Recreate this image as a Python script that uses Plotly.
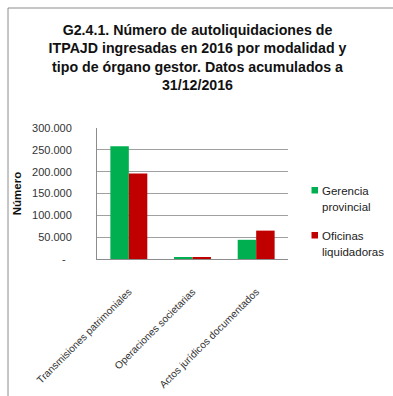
import plotly.graph_objects as go

# Data
categories = ["Transmisiones patrimoniales", "Operaciones societarias", "Actos jurídicos documentados"]
gerencia_provincial = [258000, 3000, 44000]
oficinas_liquidadoras = [196000, 2500, 65000]
series_names = ["Gerencia<br>provincial", "Oficinas<br>liquidadoras"]
series_colors = ["#00B050", "#C00000"]
y_tickvals = [0, 50000, 100000, 150000, 200000, 250000, 300000]
y_ticktext = ["-\u00a0\u00a0", "50.000", "100.000", "150.000", "200.000", "250.000", "300.000"]

W, H = 393, 396
L, R, T, B = 97, 105, 128, 137
PW, PH = W - L - R, H - T - B


def px(x):
    return (x - L) / PW


def py(y):
    return (H - B - y) / PH


fig = go.Figure()
for name, vals, col in zip(series_names, [gerencia_provincial, oficinas_liquidadoras], series_colors):
    fig.add_trace(go.Bar(x=categories, y=vals, name=name, marker_color=col,
                         marker_line_width=0, showlegend=False))

fig.update_layout(
    width=W, height=H,
    margin=dict(l=L, r=R, t=T, b=B),
    paper_bgcolor="white", plot_bgcolor="white",
    barmode="group", bargap=0.42, bargroupgap=0,
    title=dict(
        text="G2.4.1. Número de autoliquidaciones de<br>ITPAJD ingresadas en 2016 por modalidad y<br>"
             "tipo de órgano gestor. Datos acumulados a<br>31/12/2016",
        font=dict(family="Liberation Sans Narrow, Arial Narrow, Liberation Sans, sans-serif",
                  size=14.2, color="#111", weight="bold"),
        x=197.5 / W, xanchor="center", xref="container",
        y=1 - 35 / H, yanchor="top", yref="container",
    ),
    font=dict(family="Liberation Sans, Arial, sans-serif", color="#333"),
)

fig.update_yaxes(
    range=[0, 300000], tickvals=y_tickvals, ticktext=y_ticktext,
    showgrid=True, gridcolor="#A0A0A0", gridwidth=1,
    showline=True, linecolor="#8C8C8C", linewidth=1,
    zeroline=False, ticks="", ticklabelstandoff=22, automargin=False,
    tickfont=dict(size=11, color="#333"),
    title=dict(text="<b>Número</b>", font=dict(size=11.5, color="#111"), standoff=8),
)
fig.update_xaxes(
    showline=True, linecolor="#8C8C8C", linewidth=1, automargin=False,
    ticks="", tickangle=-45, ticklabelstandoff=22,
    tickfont=dict(size=10.2, color="#333"),
)

# Outer chart frame (left and top edges)
fig.add_shape(type="line", xref="paper", yref="paper", x0=px(8), x1=px(8), y0=py(8), y1=py(H + 5),
              line=dict(color="#8C8C8C", width=1))
fig.add_shape(type="line", xref="paper", yref="paper", x0=px(8), x1=px(W + 5), y0=py(8), y1=py(8),
              line=dict(color="#8C8C8C", width=1))

# Legend: colour squares and labels
legend_rows = [187, 232]
for name, col, ytop in zip(series_names, series_colors, legend_rows):
    fig.add_shape(type="rect", xref="paper", yref="paper",
                  x0=px(311.5), x1=px(318), y0=py(ytop), y1=py(ytop + 6.5),
                  fillcolor=col, line_width=0)
    for i, line in enumerate(name.split("<br>")):
        fig.add_annotation(text=line, xref="paper", yref="paper",
                           x=px(319.5), y=py(ytop + 4 + 16 * i), xanchor="left", yanchor="middle",
                           showarrow=False, font=dict(size=11.5, color="#222"))

fig.write_html("out.html")
